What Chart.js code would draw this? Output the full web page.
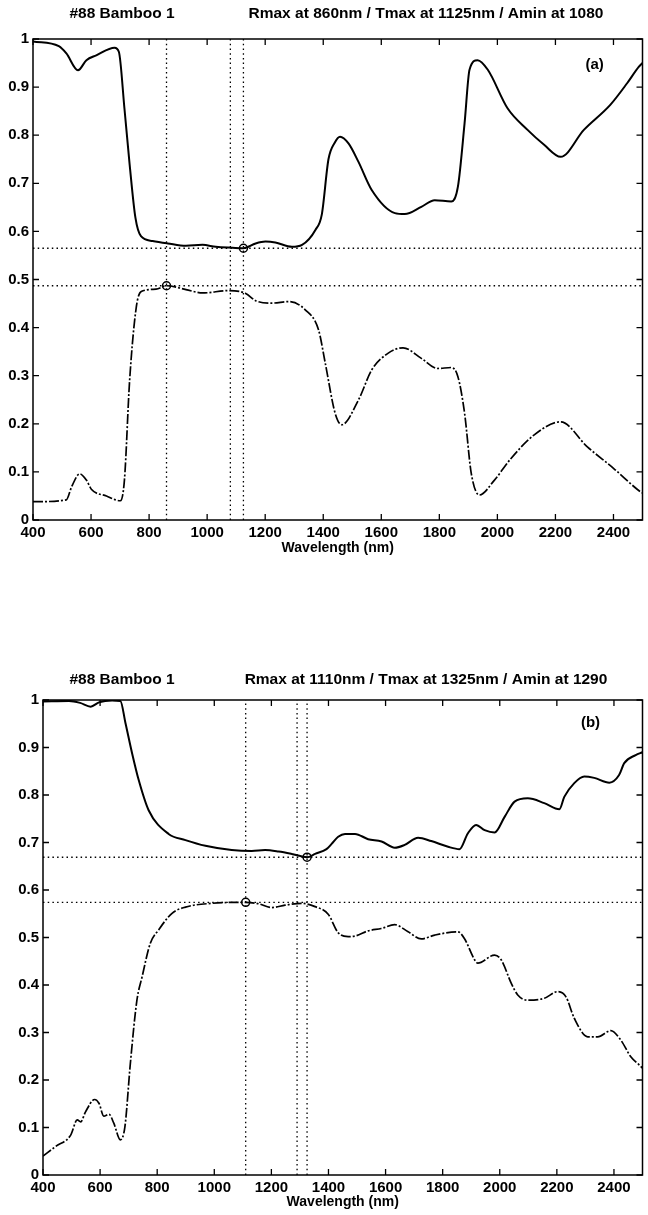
<!DOCTYPE html>
<html>
<head>
<meta charset="utf-8">
<script src="https://cdn.jsdelivr.net/npm/chart.js@4.4.0/dist/chart.umd.min.js"></script>
<style>
  html, body { margin: 0; padding: 0; background: #fff; }
  .wrap { position: absolute; left: 0; }
  #wrapA { top: 0; }
  #wrapB { top: 640px; }
</style>
</head>
<body>
<div class="wrap" id="wrapA"><canvas id="chartA" width="648" height="600"></canvas></div>
<div class="wrap" id="wrapB"><canvas id="chartB" width="648" height="575"></canvas></div>
<script>
// axis ticks
const xTicks = [400, 600, 800, 1000, 1200, 1400, 1600, 1800, 2000, 2200, 2400];
const yTicks = [0, 0.1, 0.2, 0.3, 0.4, 0.5, 0.6, 0.7, 0.8, 0.9, 1];

// panel (a): upper solid curve
const aUpperNm = [400, 489, 515, 555, 584, 618, 681, 696, 715, 733, 753, 772, 812, 864, 927, 984, 1030, 1087, 1125, 1167, 1201, 1235, 1292, 1327, 1373, 1395, 1418, 1440, 1458, 1487, 1521, 1567, 1647, 1681, 1738, 1784, 1841, 1864, 1887, 1904, 1932, 1967, 2035, 2104, 2161, 2218, 2298, 2389, 2447, 2487, 2500];
const aUpperVal = [0.995, 0.985, 0.970, 0.935, 0.956, 0.966, 0.982, 0.973, 0.856, 0.739, 0.628, 0.590, 0.580, 0.575, 0.570, 0.572, 0.568, 0.566, 0.565, 0.575, 0.579, 0.577, 0.568, 0.572, 0.603, 0.635, 0.750, 0.785, 0.797, 0.783, 0.745, 0.686, 0.638, 0.636, 0.651, 0.665, 0.662, 0.693, 0.825, 0.936, 0.956, 0.936, 0.856, 0.811, 0.780, 0.755, 0.811, 0.863, 0.908, 0.942, 0.950];

// panel (a): lower dashed curve
const aLowerNm = [400, 515, 533, 561, 584, 601, 653, 701, 715, 733, 756, 773, 824, 860, 927, 984, 1075, 1133, 1167, 1224, 1281, 1338, 1384, 1407, 1441, 1464, 1521, 1567, 1624, 1675, 1738, 1795, 1841, 1864, 1887, 1910, 1938, 1990, 2047, 2127, 2218, 2310, 2401, 2492, 2500];
const aLowerVal = [0.038, 0.042, 0.069, 0.096, 0.083, 0.064, 0.050, 0.040, 0.083, 0.291, 0.443, 0.475, 0.480, 0.487, 0.479, 0.472, 0.477, 0.471, 0.456, 0.451, 0.454, 0.437, 0.395, 0.326, 0.222, 0.198, 0.249, 0.312, 0.347, 0.358, 0.336, 0.315, 0.317, 0.298, 0.222, 0.097, 0.052, 0.083, 0.128, 0.177, 0.204, 0.152, 0.107, 0.059, 0.056];

// panel (b): upper solid curve
const bUpperNm = [400, 491, 530, 567, 596, 642, 671, 689, 712, 735, 770, 840, 899, 969, 1061, 1131, 1178, 1225, 1271, 1325, 1353, 1393, 1411, 1434, 1458, 1493, 1539, 1586, 1632, 1667, 1714, 1760, 1819, 1859, 1888, 1917, 1947, 1982, 2017, 2052, 2098, 2156, 2209, 2226, 2261, 2296, 2331, 2384, 2418, 2436, 2476, 2500];
const bUpperVal = [0.997, 0.998, 0.994, 0.986, 0.995, 0.999, 0.998, 0.951, 0.888, 0.832, 0.768, 0.718, 0.705, 0.693, 0.684, 0.682, 0.684, 0.681, 0.676, 0.669, 0.676, 0.686, 0.697, 0.712, 0.718, 0.718, 0.707, 0.702, 0.689, 0.695, 0.710, 0.703, 0.691, 0.686, 0.719, 0.737, 0.726, 0.721, 0.754, 0.786, 0.793, 0.783, 0.770, 0.796, 0.825, 0.839, 0.836, 0.826, 0.842, 0.867, 0.884, 0.890];

// panel (b): lower dashed curve
const bLowerNm = [400, 444, 497, 520, 532, 549, 581, 596, 613, 631, 648, 671, 687, 706, 729, 747, 776, 805, 852, 899, 992, 1110, 1155, 1201, 1248, 1306, 1353, 1399, 1434, 1469, 1493, 1539, 1585, 1632, 1679, 1725, 1772, 1853, 1876, 1912, 1923, 1982, 2005, 2040, 2063, 2098, 2156, 2203, 2232, 2261, 2308, 2343, 2389, 2424, 2459, 2488, 2500];
const bLowerVal = [0.040, 0.060, 0.084, 0.116, 0.112, 0.133, 0.159, 0.151, 0.124, 0.128, 0.109, 0.074, 0.102, 0.235, 0.368, 0.417, 0.488, 0.516, 0.551, 0.564, 0.572, 0.574, 0.571, 0.563, 0.568, 0.572, 0.565, 0.549, 0.510, 0.502, 0.503, 0.514, 0.519, 0.527, 0.512, 0.497, 0.505, 0.512, 0.498, 0.453, 0.446, 0.463, 0.453, 0.404, 0.379, 0.368, 0.372, 0.386, 0.375, 0.330, 0.291, 0.291, 0.304, 0.284, 0.249, 0.232, 0.225];

// marked extremes and guide lines
const aMarkNm = [860, 1125];
const aMarkVal = [0.487, 0.565];
const aGuideNm = [860, 1080, 1125];
const aGuideVal = [0.565, 0.487];
const bMarkNm = [1110, 1325];
const bMarkVal = [0.574, 0.669];
const bGuideNm = [1110, 1290, 1325];
const bGuideVal = [0.669, 0.574];

const aTitles = ['#88 Bamboo 1', 'Rmax at 860nm / Tmax at 1125nm / Amin at 1080'];
const bTitles = ['#88 Bamboo 1', 'Rmax at 1110nm / Tmax at 1325nm / Amin at 1290'];

Chart.defaults.font.family = "'Liberation Sans', Arial, sans-serif";
Chart.defaults.font.size = 15;
Chart.defaults.font.weight = 'bold';
Chart.defaults.color = '#000';

const pts = (xs, ys) => xs.map((x, i) => ({ x: x, y: ys[i] }));

const framePlugin = {
  id: 'frame',
  afterDraw(chart, args, opts) {
    const { ctx, chartArea: a, scales: { x, y } } = chart;
    ctx.save();
    ctx.strokeStyle = '#000';
    ctx.lineWidth = 1.5;
    ctx.strokeRect(a.left, a.top, a.right - a.left, a.bottom - a.top);
    ctx.lineWidth = 1.3;
    ctx.beginPath();
    x.ticks.forEach(t => {
      const px = x.getPixelForValue(t.value);
      ctx.moveTo(px, a.bottom); ctx.lineTo(px, a.bottom - 6);
      ctx.moveTo(px, a.top); ctx.lineTo(px, a.top + 6);
    });
    y.ticks.forEach(t => {
      const py = y.getPixelForValue(t.value);
      ctx.moveTo(a.left, py); ctx.lineTo(a.left + 6, py);
      ctx.moveTo(a.right, py); ctx.lineTo(a.right - 6, py);
    });
    ctx.stroke();
    ctx.fillStyle = '#000';
    ctx.font = "bold 15.5px 'Liberation Sans', Arial, sans-serif";
    ctx.textAlign = 'center';
    ctx.textBaseline = 'middle';
    ctx.fillText(opts.titles[0], 122, opts.titleY);
    ctx.fillText(opts.titles[1], 426, opts.titleY);
    ctx.font = "bold 15px 'Liberation Sans', Arial, sans-serif";
    ctx.fillText(opts.panel, x.getPixelForValue(opts.panelAt[0]), y.getPixelForValue(opts.panelAt[1]));
    ctx.restore();
  }
};

function makeChart(id, s) {
  const guide = { borderColor: '#000', borderWidth: 1.3, borderDash: [1.5, 3.2], pointRadius: 0, fill: false };
  const datasets = [
    { data: pts(s.upperNm, s.upperVal), borderColor: '#000', borderWidth: 2, pointRadius: 0, cubicInterpolationMode: 'monotone' },
    { data: pts(s.lowerNm, s.lowerVal), borderColor: '#000', borderWidth: 1.7, borderDash: [10, 2, 2, 2], pointRadius: 0, cubicInterpolationMode: 'monotone' }
  ];
  s.guideNm.forEach(v => datasets.push(Object.assign({ data: [{ x: v, y: 0 }, { x: v, y: 1 }] }, guide)));
  s.guideVal.forEach(v => datasets.push(Object.assign({ data: [{ x: 400, y: v }, { x: 2500, y: v }] }, guide)));
  datasets.push({
    data: pts(s.markNm, s.markVal), showLine: false, pointRadius: 4, pointStyle: 'circle',
    pointBorderColor: '#000', pointBackgroundColor: 'rgba(0,0,0,0)', pointBorderWidth: 1.5
  });

  return new Chart(document.getElementById(id), {
    type: 'line',
    data: { datasets: datasets },
    options: {
      responsive: false,
      animation: false,
      layout: { padding: s.padding },
      plugins: {
        legend: { display: false },
        tooltip: { enabled: false },
        frame: { titles: s.titles, titleY: s.titleY, panel: s.panel, panelAt: s.panelAt }
      },
      scales: {
        x: {
          type: 'linear', min: 400, max: 2500,
          grid: { display: false, drawTicks: false },
          border: { display: false },
          afterBuildTicks: sc => { sc.ticks = xTicks.map(v => ({ value: v })); },
          afterFit: sc => { sc.height = 40; },
          ticks: { padding: 4, maxRotation: 0, autoSkip: false, callback: v => String(v) },
          title: { display: true, text: 'Wavelength (nm)', padding: { top: 0, bottom: s.titlePad }, font: { size: 14 } }
        },
        y: {
          min: 0, max: 1,
          grid: { display: false, drawTicks: false },
          border: { display: false },
          afterBuildTicks: sc => { sc.ticks = yTicks.map(v => ({ value: v })); },
          afterFit: sc => { sc.width = s.yWidth; },
          ticks: { padding: 4, autoSkip: false, callback: v => String(v) }
        }
      }
    },
    plugins: [framePlugin]
  });
}

makeChart('chartA', {
  upperNm: aUpperNm, upperVal: aUpperVal, lowerNm: aLowerNm, lowerVal: aLowerVal,
  markNm: aMarkNm, markVal: aMarkVal, guideNm: aGuideNm, guideVal: aGuideVal,
  titles: aTitles, titleY: 14, panel: '(a)', panelAt: [2335, 0.946],
  padding: { left: 0, right: 3, top: 39, bottom: 40 }, yWidth: 33, titlePad: 3
});

makeChart('chartB', {
  upperNm: bUpperNm, upperVal: bUpperVal, lowerNm: bLowerNm, lowerVal: bLowerVal,
  markNm: bMarkNm, markVal: bMarkVal, guideNm: bGuideNm, guideVal: bGuideVal,
  titles: bTitles, titleY: 40, panel: '(b)', panelAt: [2318, 0.952],
  padding: { left: 0, right: 3, top: 60, bottom: 0 }, yWidth: 43, titlePad: 4
});
</script>
</body>
</html>
